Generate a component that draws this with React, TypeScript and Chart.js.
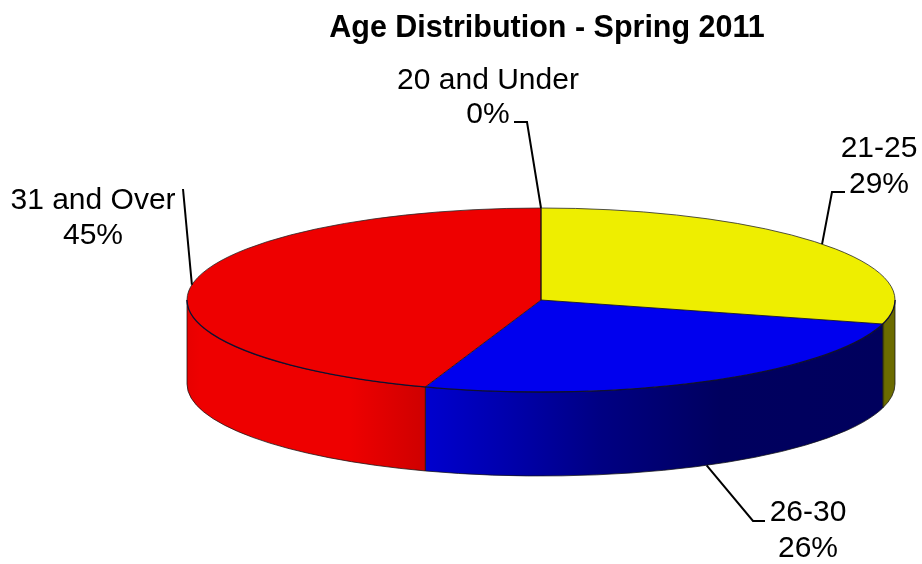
import React, { useEffect, useRef } from "react";
import { Chart, registerables } from "chart.js";

Chart.register(...registerables);

const categories = ["20 and Under", "21-25", "26-30", "31 and Over"];
const shares = [0, 29.2, 26.1, 44.7];
const faceColors = ["#eeee00", "#eeee00", "#0000ee", "#ee0000"];
const sideRgb = [
  [238, 238, 0],
  [238, 238, 0],
  [0, 0, 238],
  [238, 0, 0],
];
const chartTitle = "Age Distribution - Spring 2011";

const FONT = '"Liberation Sans", Arial, sans-serif';
const CX = 541;
const CY = 300;
const RX = 354;
const RY = 92;
const DEPTH = 84;

// label block centre x, first baseline, line gap, elbow point, end of the leader
const labelLayout = [
  { x: 488, y: 88.5, gap: 34.5, elbow: [527, 122], end: [514, 122], side: false },
  { x: 879, y: 157, gap: 36, elbow: [832, 192], end: [845, 192], side: false },
  { x: 808, y: 521, gap: 36, elbow: [753, 521], end: [765, 521], side: true },
  { x: 93, y: 208.5, gap: 35.5, elbow: [183, 189], end: [183, 189], side: false },
];

const shadeStops: [number, number][] = [
  [187, 0.97],
  [200, 1],
  [350, 1],
  [424, 0.87],
  [520, 0.7],
  [600, 0.55],
  [720, 0.4],
  [884, 0.39],
  [885, 0.45],
  [895, 0.45],
];

const piePlugin = {
  id: "tiltedPie",
  beforeDatasetsDraw(chart: any) {
    const ctx = chart.ctx;
    const arcs = chart.getDatasetMeta(0).data;
    const el = arcs[0];
    // side walls: only the part of each slice facing the viewer
    arcs.forEach((arc: any, i: number) => {
      const a0 = Math.max(arc.startAngle, 0);
      const a1 = Math.min(arc.endAngle, Math.PI);
      if (a1 <= a0) return;
      const grad = ctx.createLinearGradient(CX - RX, 0, CX + RX, 0);
      const [r, g, b] = sideRgb[i];
      shadeStops.forEach(([x, s]) => {
        grad.addColorStop(
          (x - (CX - RX)) / (2 * RX),
          `rgb(${Math.round(r * s)},${Math.round(g * s)},${Math.round(b * s)})`
        );
      });
      ctx.save();
      ctx.beginPath();
      ctx.ellipse(CX, CY, RX, RY, 0, a0, a1);
      ctx.ellipse(CX, CY + DEPTH, RX, RY, 0, a1, a0, true);
      ctx.closePath();
      ctx.fillStyle = grad;
      ctx.fill();
      ctx.lineWidth = 1;
      ctx.strokeStyle = "rgba(20,20,20,0.75)";
      ctx.stroke();
      ctx.restore();
    });
    // top face: the library's arcs, squashed to an ellipse
    ctx.save();
    ctx.translate(CX, CY);
    ctx.scale(RX / el.outerRadius, RY / el.outerRadius);
    ctx.translate(-el.x, -el.y);
  },
  afterDatasetsDraw(chart: any) {
    const ctx = chart.ctx;
    ctx.restore();
    const arcs = chart.getDatasetMeta(0).data;
    ctx.save();
    // rim of the top face
    ctx.lineWidth = 1;
    ctx.strokeStyle = "rgba(40,40,40,0.8)";
    ctx.beginPath();
    ctx.ellipse(CX, CY, RX, RY, 0, Math.PI, 2 * Math.PI);
    ctx.stroke();
    ctx.lineWidth = 1.3;
    ctx.strokeStyle = "#101030";
    ctx.beginPath();
    ctx.ellipse(CX, CY, RX, RY, 0, 0, Math.PI);
    ctx.stroke();
    // radial edges
    ctx.lineWidth = 1;
    ctx.strokeStyle = "rgba(20,20,20,0.85)";
    arcs.forEach((arc: any) => {
      ctx.beginPath();
      ctx.moveTo(CX, CY);
      ctx.lineTo(CX + RX * Math.cos(arc.endAngle), CY + RY * Math.sin(arc.endAngle));
      ctx.stroke();
    });
    ctx.restore();
  },
  afterDraw(chart: any) {
    const ctx = chart.ctx;
    const arcs = chart.getDatasetMeta(0).data;
    const total = shares.reduce((a, b) => a + b, 0);
    ctx.save();
    arcs.forEach((arc: any, i: number) => {
      const mid = (arc.startAngle + arc.endAngle) / 2;
      const place = labelLayout[i];
      const ax = CX + RX * Math.cos(mid);
      const ay = CY + RY * Math.sin(mid) + (place.side ? DEPTH : 0);
      ctx.lineWidth = 2;
      ctx.strokeStyle = "#000";
      ctx.beginPath();
      ctx.moveTo(ax, ay);
      ctx.lineTo(place.elbow[0], place.elbow[1]);
      ctx.lineTo(place.end[0], place.end[1]);
      ctx.stroke();
      ctx.fillStyle = "#000";
      ctx.font = `30px ${FONT}`;
      ctx.textAlign = "center";
      ctx.textBaseline = "alphabetic";
      ctx.fillText(chart.data.labels[i], place.x, place.y);
      ctx.fillText(`${Math.round((shares[i] / total) * 100)}%`, place.x, place.y + place.gap);
    });
    ctx.restore();
  },
};

export default function App() {
  const ref = useRef<HTMLCanvasElement>(null);
  useEffect(() => {
    document.body.style.margin = "0";
    const chart = new Chart(ref.current as HTMLCanvasElement, {
      type: "pie",
      data: {
        labels: categories,
        datasets: [
          {
            data: shares,
            backgroundColor: faceColors,
            borderWidth: 0,
          },
        ],
      },
      options: {
        responsive: false,
        animation: false,
        layout: { padding: { left: 172, top: 0, right: 0, bottom: 0 } },
        plugins: {
          legend: { display: false },
          tooltip: { enabled: false },
          title: {
            display: true,
            text: chartTitle,
            color: "#000",
            font: { family: FONT, size: 30.5, weight: "bold" },
            padding: { top: 10, bottom: 10 },
          },
        },
      },
      plugins: [piePlugin],
    } as any);
    return () => chart.destroy();
  }, []);
  return <canvas ref={ref} width={922} height={564} style={{ display: "block" }} />;
}
